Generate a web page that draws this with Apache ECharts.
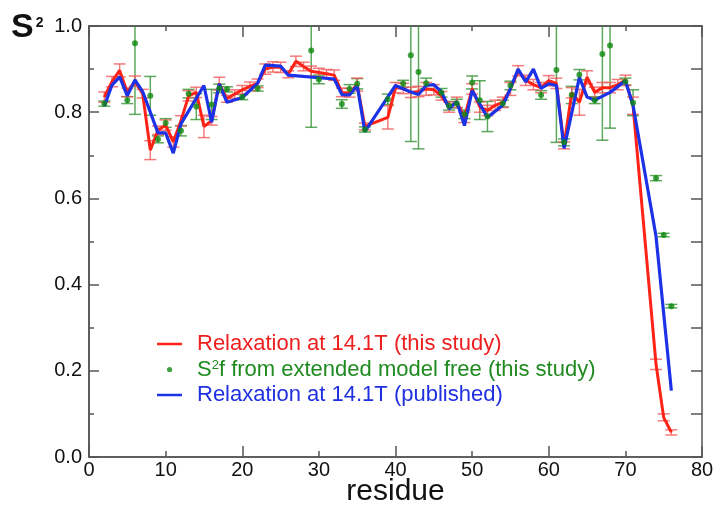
<!DOCTYPE html>
<html>
<head>
<meta charset="utf-8">
<script src="https://cdn.jsdelivr.net/npm/echarts@6/dist/echarts.min.js"></script>
<style>
  html, body { margin: 0; padding: 0; background: #fff; }
  #chart { width: 715px; height: 506px; }
</style>
</head>
<body>
<div id="chart"></div>
<script>
// relaxation at 14.1T, this study
const redRes = [2,3,4,5,6,7,8,9,10,11,12,13,14,15,16,17,18,19,20,21,22,23,24,25,26,27,28,29,30,31,32,33,34,35,36,
  39,40,41,42,43,44,45,46,47,48,49,50,51,52,53,54,55,56,57,58,59,60,61,62,63,64,65,66,67,68,69,70,71,74,75,76];
const redVal = [.835,.871,.897,.846,.872,.843,.712,.758,.770,.731,.780,.838,.846,.767,.780,.866,.831,.842,.852,.860,.867,.900,.905,.904,.888,.918,.906,.895,.892,.889,.886,.846,.845,.864,.767,
  .788,.857,.855,.846,.848,.854,.852,.838,.812,.823,.788,.854,.812,.804,.816,.823,.854,.896,.874,.864,.857,.873,.867,.723,.845,.823,.881,.846,.857,.857,.864,.874,.815,.215,.092,.057];
const redErr = [.012,.012,.015,.010,.012,.010,.022,.010,.012,.012,.012,.012,.012,.026,.010,.015,.008,.010,.010,.010,.010,.012,.012,.012,.008,.012,.010,.012,.010,.010,.012,.010,.010,.015,.008,
  .027,.012,.012,.012,.012,.015,.012,.010,.012,.012,.012,.012,.012,.012,.012,.012,.015,.012,.012,.012,.012,.012,.012,.008,.012,.030,.015,.012,.012,.012,.012,.012,.020,.012,.008,.006];

// relaxation at 14.1T, published
const blueRes = [2,3,4,5,6,7,9,10,11,12,15,16,17,18,20,22,23,25,26,32,33,34,35,36,40,42,43,44,45,46,47,48,49,50,51,52,54,55,56,57,58,59,60,61,62,64,65,66,68,70,71,74,76];
const blueVal = [.814,.863,.882,.838,.875,.848,.752,.752,.705,.773,.862,.777,.866,.823,.834,.867,.909,.907,.886,.877,.841,.840,.862,.755,
  .862,.847,.841,.862,.864,.847,.808,.825,.769,.850,.819,.788,.816,.855,.900,.870,.900,.855,.866,.862,.716,.881,.835,.828,.846,.873,.816,.512,.154];

// S2f, extended model free
const greenRes = [2,5,6,8,9,10,12,13,14,16,17,18,20,22,29,30,33,34,35,36,39,41,42,43,44,46,47,48,49,50,51,52,54,55,59,61,62,63,64,66,67,68,70,71,74,75,76];
const greenVal = [.820,.828,.960,.838,.737,.775,.757,.843,.813,.818,.855,.853,.835,.855,.943,.876,.819,.854,.866,.760,
  .830,.866,.932,.893,.867,.845,.815,.820,.795,.869,.828,.790,.820,.862,.840,.898,.730,.840,.887,.828,.935,.955,.871,.822,.647,.515,.350];
const greenErr = [.006,.008,.165,.045,.008,.010,.012,.010,.030,.035,.010,.006,.006,.006,.178,.010,.010,.010,.012,.006,
  .012,.008,.200,.178,.012,.010,.010,.010,.010,.015,.045,.035,.008,.010,.010,.168,.008,.020,.012,.008,.200,.192,.008,.030,.006,.004,.004];

const FONT = "'Liberation Sans', Arial, Helvetica, sans-serif";
const AXIS = "#555";
const RED = "#ff2216", BLUE = "#1c32e6", GREEN = "#0f8a0f";

const chart = echarts.init(document.getElementById("chart"));

function errorBars(res, val, err, color, z) {
  return {
    type: "custom",
    z: z,
    silent: true,
    clip: true,
    data: res.map((r, i) => [r, val[i] - err[i], val[i] + err[i]]),
    encode: { x: 0, y: [1, 2] },
    renderItem(params, api) {
      const lo = api.coord([api.value(0), api.value(1)]);
      const hi = api.coord([api.value(0), api.value(2)]);
      const w = 6;
      const style = { stroke: color, lineWidth: 1.5 };
      return {
        type: "group",
        children: [
          { type: "line", shape: { x1: lo[0], y1: lo[1], x2: hi[0], y2: hi[1] }, style },
          { type: "line", shape: { x1: lo[0] - w, y1: lo[1], x2: lo[0] + w, y2: lo[1] }, style },
          { type: "line", shape: { x1: hi[0] - w, y1: hi[1], x2: hi[0] + w, y2: hi[1] }, style },
        ],
      };
    },
  };
}

// legend icons: padded box so the text sits ~15px right of the mark
const lineIcon = "path://M0,0h.01v.01h-.01z M0,5.7h25v2.6h-25z M34.99,13.99h.01v.01h-.01z";
const dotIcon = "path://M0,0h.01v.01h-.01z M10,7a2.6,2.6 0 1,0 5.2,0a2.6,2.6 0 1,0 -5.2,0z M34.99,13.99h.01v.01h-.01z";

const tickStyle = { color: AXIS, width: 1.5 };

// tick-only axis (no labels); its line sits on the frame edge
function tickAxis(pos, max, interval, len) {
  return {
    type: "value", min: 0, max: max, interval: interval, position: pos,
    axisLine: { show: true, onZero: false, lineStyle: tickStyle },
    axisTick: { inside: true, length: len, lineStyle: tickStyle },
    axisLabel: { show: false },
    splitLine: { show: false },
  };
}

const option = {
  animation: false,
  textStyle: { fontFamily: FONT },
  title: {
    text: "{s|S}{p|2}",
    left: 11,
    top: 10,
    padding: 0,
    textStyle: {
      rich: {
        s: { fontSize: 34, color: "#111", fontFamily: FONT, lineHeight: 36 },
        p: { fontSize: 14, color: "#111", fontFamily: FONT, verticalAlign: "top", padding: [6, 0, 0, 2] },
      },
    },
  },
  grid: { left: 89, right: 13, top: 26, bottom: 49, outerBoundsMode: "none" },
  legend: {
    orient: "vertical",
    left: 157,
    top: 333,
    padding: 0,
    itemWidth: 35,
    itemHeight: 14,
    itemGap: 3.5,
    itemStyle: { borderWidth: 0 },
    data: [
      { name: "red", icon: lineIcon, itemStyle: { color: RED } },
      { name: "green", icon: dotIcon, itemStyle: { color: GREEN } },
      { name: "blue", icon: lineIcon, itemStyle: { color: BLUE } },
    ],
    formatter(name) {
      if (name === "red") return "{r|Relaxation at 14.1T (this study)}";
      if (name === "green") return "{g|S}{gs|2}{g|f from extended model free (this study)}";
      return "{b|Relaxation at 14.1T (published)}";
    },
    textStyle: {
      fontSize: 22,
      lineHeight: 22,
      rich: {
        r: { color: "#ee1f1f", fontSize: 22, lineHeight: 22, fontFamily: FONT },
        g: { color: "#1f8a1f", fontSize: 22, lineHeight: 22, fontFamily: FONT },
        gs: { color: "#1f8a1f", fontSize: 13, lineHeight: 13, verticalAlign: "top", fontFamily: FONT },
        b: { color: "#1f30e0", fontSize: 22, lineHeight: 22, fontFamily: FONT },
      },
    },
  },
  xAxis: [
    {
      type: "value", min: 0, max: 80, interval: 10, position: "bottom",
      axisLine: { show: true, onZero: false, lineStyle: tickStyle },
      axisTick: { inside: true, length: 6, lineStyle: tickStyle },
      axisLabel: { color: "#111", fontSize: 20, margin: 3, fontFamily: FONT },
      splitLine: { show: false },
      name: "residue", nameLocation: "middle", nameGap: 20, nameMoveOverlap: false,
      nameTextStyle: { fontSize: 30, color: "#111", fontFamily: FONT, verticalAlign: "top" },
    },
    tickAxis("bottom", 80, 20, 11),
    tickAxis("top", 80, 20, 11),
    tickAxis("top", 80, 10, 5),
  ],
  yAxis: [
    {
      type: "value", min: 0, max: 1, interval: 0.1, position: "left",
      axisLine: { show: true, onZero: false, lineStyle: tickStyle },
      axisTick: { inside: true, length: 5, lineStyle: tickStyle },
      axisLabel: {
        color: "#111", fontSize: 20, margin: 7, fontFamily: FONT,
        formatter: (v) => (Math.round(v * 10) % 2 === 0 ? v.toFixed(1) : ""),
      },
      splitLine: { show: false },
    },
    tickAxis("left", 1, 0.2, 10),
    tickAxis("right", 1, 0.1, 11),
  ],
  series: [
    Object.assign(errorBars(greenRes, greenVal, greenErr, "rgba(40,140,40,0.75)", 1), { name: "greenErr" }),
    Object.assign(errorBars(redRes, redVal, redErr, "rgba(240,80,80,0.75)", 2), { name: "redErr" }),
    {
      name: "red", type: "line", z: 3, symbol: "none",
      data: redRes.map((r, i) => [r, redVal[i]]),
      lineStyle: { color: RED, width: 3 },
      itemStyle: { color: RED },
    },
    {
      name: "blue", type: "line", z: 4, symbol: "none",
      data: blueRes.map((r, i) => [r, blueVal[i]]),
      lineStyle: { color: BLUE, width: 3.2 },
      itemStyle: { color: BLUE },
    },
    {
      name: "green", type: "scatter", z: 5, symbolSize: 6,
      data: greenRes.map((r, i) => [r, greenVal[i]]),
      itemStyle: { color: GREEN },
    },
  ],
};

chart.setOption(option);
</script>
</body>
</html>
